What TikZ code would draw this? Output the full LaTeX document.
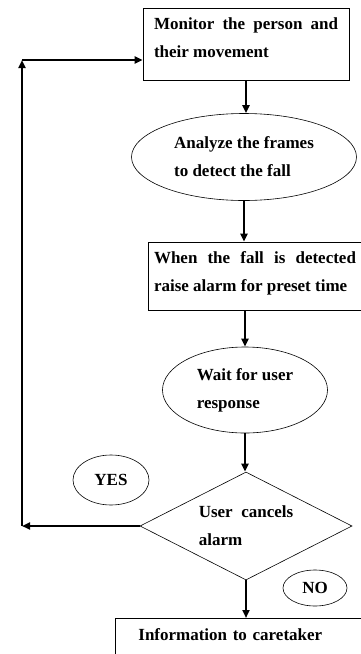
\documentclass[tikz,border=0pt]{standalone}
\usepackage{fontspec}
\setmainfont{Liberation Serif}
\usetikzlibrary{shapes.geometric,arrows.meta}

\begin{document}
\begin{tikzpicture}[x=1pt,y=-1pt,
    every node/.style={font=\bfseries\fontsize{17}{28}\selectfont,inner sep=0pt},
    box/.style={draw,line width=0.8pt,align=left},
    oval/.style={draw,ellipse,line width=0.6pt,align=left},
    flow/.style={line width=2pt,-{Triangle[length=8pt,width=7pt]}}]
  \useasboundingbox (0,0) rectangle (361,654);
  \clip (0,0) rectangle (361,654);
  % steps
  \node[box,minimum width=206pt,minimum height=72pt,text depth=12pt] (mon) at (246,44) {\makebox[184pt][s]{Monitor the person and}\\their movement};
  \node[oval,minimum width=225pt,minimum height=87pt] (ana) at (244,157) {Analyze the frames\\to detect the fall};
  \node[box,minimum width=214pt,minimum height=68pt,text depth=8pt] (det) at (255,276) {\makebox[202pt][s]{When the fall is detected}\\raise alarm for preset time};
  \node[oval,minimum width=165pt,minimum height=86pt] (wait) at (245,390) {Wait for user\\response};
  \node[draw,diamond,shape aspect=2,line width=0.6pt,align=left,minimum width=212pt,minimum height=108pt] (cancel) at (246,526) {User\ \ cancels\\alarm};
  \node[box,anchor=north west,text width=230pt,inner xsep=23pt,inner ysep=4pt,text height=18pt,text depth=40pt] (care) at (115,618) {Information to caretaker};
  % answers
  \node[oval,minimum width=76pt,minimum height=50pt] (yes) at (111,480) {YES};
  \node[oval,minimum width=64pt,minimum height=36pt] (no) at (315,588) {NO};
  % arrows
  \draw[flow] (mon.south) -- (mon.south |- ana.north);
  \draw[flow] (ana.south) -- (ana.south |- det.north);
  \draw[flow] (det.south -| wait.north) -- (wait.north);
  \draw[flow] (wait.south) -- (wait.south |- cancel.north);
  \draw[flow] (cancel.south) -- (cancel.south |- care.north);
  % back to the start
  \coordinate (backdown) at (22,526);
  \coordinate (backup) at (22,60);
  \draw[flow] (cancel.west) -- (backdown);
  \draw[flow] (backdown) -- (backup);
  \draw[flow] (backup) -- (backup -| mon.west);
\end{tikzpicture}
\end{document}
